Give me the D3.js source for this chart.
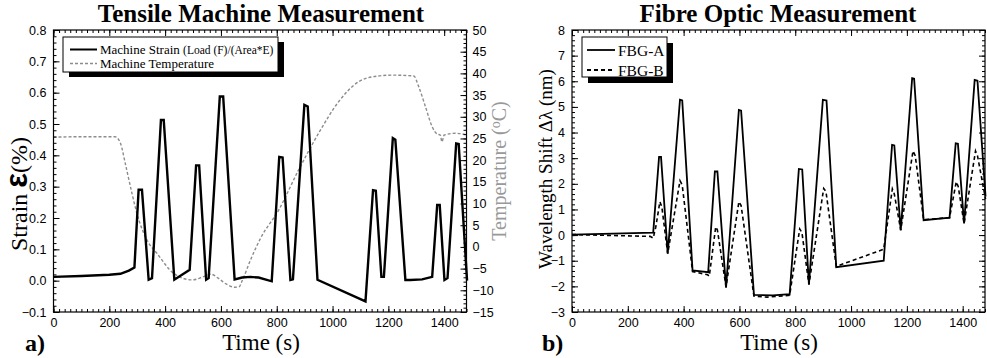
<!DOCTYPE html>
<html>
<head>
<meta charset="utf-8">
<script src="https://cdn.jsdelivr.net/npm/d3@7"></script>
<style>
  html, body { margin: 0; padding: 0; background: #fff; }
  svg { display: block; }
</style>
</head>
<body>
<svg id="chart" width="987" height="358"></svg>
<script>
// ---------------- DATA ----------------
// Panel a) Tensile machine: strain (%) vs time (s)
const strainTime = [0, 100, 200, 240, 270, 290, 305, 317, 341, 353, 385, 395, 433, 488, 511, 522, 547, 556, 596, 608, 649, 676, 706, 735, 782, 809, 821, 849, 858, 899, 911, 946, 1118, 1145, 1155, 1175, 1184, 1216, 1225, 1261, 1279, 1321, 1357, 1375, 1384, 1401, 1412, 1443, 1452, 1482];
const strainVals = [0.012, 0.015, 0.019, 0.022, 0.032, 0.042, 0.29, 0.29, 0.003, 0.008, 0.513, 0.513, 0.003, 0.035, 0.368, 0.368, 0.003, 0.008, 0.588, 0.588, 0.004, 0.010, 0.012, 0.010, -0.002, 0.395, 0.393, 0.002, 0.004, 0.561, 0.556, 0.003, -0.066, 0.289, 0.287, 0.012, 0.012, 0.455, 0.450, 0.002, 0.002, 0.004, 0.012, 0.242, 0.242, 0.002, 0.008, 0.438, 0.436, 0.0];
// Machine temperature (°C) vs time (s)
const tempTime = [0, 100, 221, 240, 257, 281, 299, 335, 371, 431, 497, 540, 565, 590, 620, 650, 665, 676, 706, 742, 807, 878, 950, 1022, 1094, 1142, 1213, 1291, 1309, 1333, 1357, 1375, 1386, 1392, 1400, 1441, 1482];
const tempVals = [25.3, 25.4, 25.4, 23.9, 19.3, 12.4, 7.7, 1.6, -1.5, -6.1, -7.6, -6.8, -6.3, -7.2, -8.6, -9.3, -9.2, -7.8, -3.0, 2.0, 8.5, 17.7, 26.2, 33.5, 38.1, 39.2, 39.6, 39.4, 36.9, 32.3, 27.7, 26.0, 25.8, 24.2, 25.8, 26.2, 25.8];

// Panel b) Fibre optic: wavelength shift (nm) vs time (s)
const fbgATime = [0, 291, 312, 319, 343, 387, 395, 432, 488, 512, 521, 552, 598, 606, 652, 720, 780, 813, 825, 849, 899, 912, 947, 1117, 1147, 1155, 1178, 1219, 1226, 1260, 1353, 1375, 1383, 1405, 1443, 1453, 1482];
const fbgAVals = [0.02, 0.1, 3.05, 3.05, -0.72, 5.28, 5.25, -1.38, -1.45, 2.48, 2.48, -2.05, 4.88, 4.85, -2.33, -2.35, -2.3, 2.58, 2.56, -1.92, 5.28, 5.25, -1.25, -1.0, 3.52, 3.5, 0.18, 6.12, 6.1, 0.58, 0.68, 3.58, 3.56, 0.45, 6.05, 6.02, 1.5];
const fbgBTime = [0, 280, 291, 300, 315, 322, 343, 387, 395, 432, 486, 492, 515, 521, 552, 598, 606, 652, 700, 780, 816, 824, 849, 902, 910, 947, 1117, 1148, 1155, 1178, 1222, 1230, 1260, 1353, 1377, 1384, 1405, 1446, 1453, 1482];
const fbgBVals = [0.02, -0.05, -0.12, 0.3, 1.3, 1.1, -0.72, 2.12, 1.95, -1.42, -1.55, -1.6, 0.32, 0.2, -2.02, 1.3, 1.15, -2.38, -2.42, -2.35, 0.24, 0.1, -1.93, 1.82, 1.7, -1.22, -0.55, 1.8, 1.6, 0.2, 3.28, 3.1, 0.6, 0.68, 2.08, 1.9, 0.45, 3.28, 3.1, 1.4];

// Tick values
const timeTicks = [0, 200, 400, 600, 800, 1000, 1200, 1400];
const strainTicks = [-0.1, 0.0, 0.1, 0.2, 0.3, 0.4, 0.5, 0.6, 0.7, 0.8];
const tempTicks = [-15, -10, -5, 0, 5, 10, 15, 20, 25, 30, 35, 40, 45, 50];
const shiftTicks = [-3, -2, -1, 0, 1, 2, 3, 4, 5, 6, 7, 8];

// ---------------- DRAWING ----------------
const svg = d3.select("#chart");
const SERIF = "'Liberation Serif', 'Times New Roman', serif";
const SANS = "'Liberation Sans', Arial, sans-serif";

function zip(xs, ys) { return xs.map((x, i) => [x, ys[i]]); }
function range(a, b, step) { const out = []; for (let v = a; v <= b + 1e-9; v += step) out.push(+v.toFixed(6)); return out; }

function drawAxes(g, x, y, opts) {
  const [x0, x1] = x.range();
  const [y0, y1] = y.range(); // y0 bottom, y1 top
  const styleAxis = sel => {
    sel.select(".domain").remove();
    sel.selectAll("line").attr("stroke", "#000").attr("stroke-width", 1);
    sel.selectAll("text").attr("font-family", SANS).attr("font-size", 12.5).attr("fill", "#000");
  };
  // bottom
  g.append("g").attr("transform", `translate(0,${y0})`)
    .call(d3.axisBottom(x).tickValues(range(0, 1480, 20)).tickSize(-3).tickFormat("")).call(styleAxis);
  g.append("g").attr("transform", `translate(0,${y0})`)
    .call(d3.axisBottom(x).tickValues(timeTicks).tickSize(-6).tickPadding(6).tickFormat(d3.format("d"))).call(styleAxis);
  // top
  g.append("g").attr("transform", `translate(0,${y1})`)
    .call(d3.axisTop(x).tickValues(range(0, 1480, 20)).tickSize(-3).tickFormat("")).call(styleAxis);
  g.append("g").attr("transform", `translate(0,${y1})`)
    .call(d3.axisTop(x).tickValues(timeTicks).tickSize(-6).tickFormat("")).call(styleAxis);
  // left
  g.append("g").attr("transform", `translate(${x0},0)`)
    .call(d3.axisLeft(y).tickValues(opts.leftMinor).tickSize(-3).tickFormat("")).call(styleAxis);
  g.append("g").attr("transform", `translate(${x0},0)`)
    .call(d3.axisLeft(y).tickValues(opts.leftTicks).tickSize(-6).tickPadding(7).tickFormat(opts.leftFormat)).call(styleAxis);
  // right
  const yr = opts.yRight || y;
  g.append("g").attr("transform", `translate(${x1},0)`)
    .call(d3.axisRight(yr).tickValues(opts.rightMinor).tickSize(-3).tickFormat("")).call(styleAxis);
  g.append("g").attr("transform", `translate(${x1},0)`)
    .call(d3.axisRight(yr).tickValues(opts.rightTicks).tickSize(-6).tickPadding(6).tickFormat(opts.rightFormat || "")).call(styleAxis);
  // frame
  g.append("rect").attr("x", x0).attr("y", y1).attr("width", x1 - x0).attr("height", y0 - y1)
    .attr("fill", "none").attr("stroke", "#000").attr("stroke-width", 1.2);
}

// ===== Panel a) =====
const ga = svg.append("g");
const xa = d3.scaleLinear().domain([0, 1480]).range([53.5, 466.5]);
const ya = d3.scaleLinear().domain([-0.1, 0.8]).range([312, 30]);
const yt = d3.scaleLinear().domain([-15, 50]).range([312, 30]);

ga.append("path").datum(zip(tempTime, tempVals))
  .attr("d", d3.line().x(d => xa(d[0])).y(d => yt(d[1])).curve(d3.curveMonotoneX))
  .attr("fill", "none").attr("stroke", "#8c8c8c").attr("stroke-width", 1.4).attr("stroke-dasharray", "3,2");
ga.append("path").datum(zip(strainTime, strainVals))
  .attr("d", d3.line().x(d => xa(d[0])).y(d => ya(d[1])))
  .attr("fill", "none").attr("stroke", "#000").attr("stroke-width", 2.4).attr("stroke-linejoin", "miter");

drawAxes(ga, xa, ya, {
  leftTicks: strainTicks, leftMinor: range(-0.1, 0.8, 0.02), leftFormat: d3.format(".1f"),
  yRight: yt, rightTicks: tempTicks, rightMinor: range(-15, 50, 1), rightFormat: d3.format("d")
});

// legend a
const lega = ga.append("g");
lega.append("rect").attr("x", 69).attr("y", 42).attr("width", 215).attr("height", 35).attr("fill", "#000");
lega.append("rect").attr("x", 63).attr("y", 37).attr("width", 215).attr("height", 35).attr("fill", "#fff").attr("stroke", "#000").attr("stroke-width", 1);
lega.append("line").attr("x1", 70).attr("x2", 97).attr("y1", 49.5).attr("y2", 49.5).attr("stroke", "#000").attr("stroke-width", 2);
const t1 = lega.append("text").attr("x", 100).attr("y", 53.5).attr("font-family", SERIF).attr("font-size", 13);
t1.append("tspan").text("Machine Strain ");
t1.append("tspan").attr("font-size", 11.5).text("(Load (F)/(Area*E)");
lega.append("line").attr("x1", 70).attr("x2", 97).attr("y1", 63.5).attr("y2", 63.5).attr("stroke", "#8c8c8c").attr("stroke-width", 1.4).attr("stroke-dasharray", "3,2");
lega.append("text").attr("x", 100).attr("y", 68).attr("font-family", SERIF).attr("font-size", 13).text("Machine Temperature");

// titles / labels a
svg.append("text").attr("x", 261).attr("y", 22).attr("text-anchor", "middle")
  .attr("font-family", SERIF).attr("font-weight", "bold").attr("font-size", 25).text("Tensile Machine Measurement");
svg.append("text").attr("x", 261).attr("y", 350).attr("text-anchor", "middle")
  .attr("font-family", SERIF).attr("font-size", 23).text("Time (s)");
svg.append("text").attr("x", 25).attr("y", 351)
  .attr("font-family", SERIF).attr("font-weight", "bold").attr("font-size", 24).text("a)");
const sl = svg.append("text").attr("transform", "translate(27,194) rotate(-90)").attr("text-anchor", "middle")
  .attr("font-family", SERIF).attr("font-size", 24);
sl.append("tspan").text("Strain  ");
sl.append("tspan").attr("font-family", SANS).attr("font-weight", "bold").attr("font-size", 31).text("\u03B5");
sl.append("tspan").text("(%)");
const tl = svg.append("text").attr("transform", "translate(506,171) rotate(-90)").attr("text-anchor", "middle")
  .attr("font-family", SERIF).attr("font-size", 20).attr("fill", "#999");
tl.append("tspan").text("Temperature (");
tl.append("tspan").attr("font-size", 14).attr("dy", -6).text("o");
tl.append("tspan").attr("dy", 6).text("C)");

// ===== Panel b) =====
const gb = svg.append("g");
const xb = d3.scaleLinear().domain([0, 1480]).range([572, 985]);
const yb = d3.scaleLinear().domain([-3, 8]).range([312, 30]);

gb.append("path").datum(zip(fbgBTime, fbgBVals))
  .attr("d", d3.line().x(d => xb(d[0])).y(d => yb(d[1])))
  .attr("fill", "none").attr("stroke", "#000").attr("stroke-width", 1.6).attr("stroke-dasharray", "4,3");
gb.append("path").datum(zip(fbgATime, fbgAVals))
  .attr("d", d3.line().x(d => xb(d[0])).y(d => yb(d[1])))
  .attr("fill", "none").attr("stroke", "#000").attr("stroke-width", 1.8);

drawAxes(gb, xb, yb, {
  leftTicks: shiftTicks, leftMinor: range(-3, 8, 0.2), leftFormat: d3.format("d"),
  rightTicks: shiftTicks, rightMinor: range(-3, 8, 0.2)
});

// legend b
const legb = gb.append("g");
legb.append("rect").attr("x", 588).attr("y", 43).attr("width", 85).attr("height", 40).attr("fill", "#000");
legb.append("rect").attr("x", 582).attr("y", 37).attr("width", 85).attr("height", 40).attr("fill", "#fff").attr("stroke", "#000").attr("stroke-width", 1);
legb.append("line").attr("x1", 587).attr("x2", 615).attr("y1", 50).attr("y2", 50).attr("stroke", "#000").attr("stroke-width", 1.8);
legb.append("text").attr("x", 618).attr("y", 55.5).attr("font-family", SERIF).attr("font-size", 15.5).text("FBG-A");
legb.append("line").attr("x1", 587).attr("x2", 615).attr("y1", 70).attr("y2", 70).attr("stroke", "#000").attr("stroke-width", 1.8).attr("stroke-dasharray", "4,3");
legb.append("text").attr("x", 618).attr("y", 75.5).attr("font-family", SERIF).attr("font-size", 15.5).text("FBG-B");

svg.append("text").attr("x", 778).attr("y", 22).attr("text-anchor", "middle")
  .attr("font-family", SERIF).attr("font-weight", "bold").attr("font-size", 25).text("Fibre Optic Measurement");
svg.append("text").attr("x", 779).attr("y", 350).attr("text-anchor", "middle")
  .attr("font-family", SERIF).attr("font-size", 23).text("Time (s)");
svg.append("text").attr("x", 542).attr("y", 351)
  .attr("font-family", SERIF).attr("font-weight", "bold").attr("font-size", 24).text("b)");
svg.append("text").attr("transform", "translate(552,169) rotate(-90)").attr("text-anchor", "middle")
  .attr("font-family", SERIF).attr("font-size", 19).text("Wavelength Shift \u0394\u03BB (nm)");
</script>
</body>
</html>
